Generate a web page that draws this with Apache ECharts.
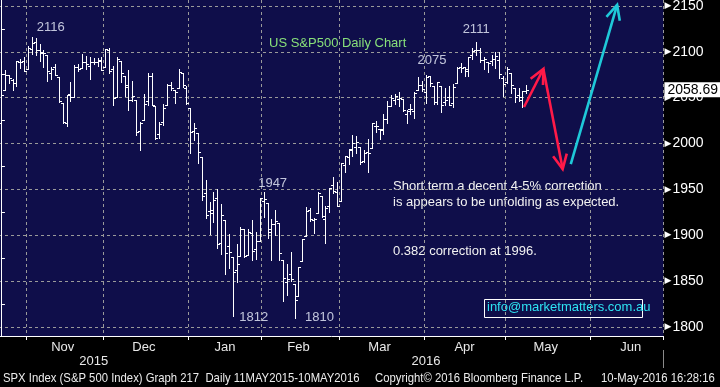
<!DOCTYPE html>
<html><head><meta charset="utf-8">
<script src="https://cdn.jsdelivr.net/npm/echarts@6/dist/echarts.min.js"></script>
<style>html,body{margin:0;padding:0;background:#000;}#c{width:720px;height:387px;}</style>
</head><body><div id="c"></div>
<script>
// ---- data: SPX daily OHLC (trading days) ----
const dates = [
'2015-10-22','2015-10-23','2015-10-26','2015-10-27','2015-10-28','2015-10-29','2015-10-30',
'2015-11-02','2015-11-03','2015-11-04','2015-11-05','2015-11-06','2015-11-09','2015-11-10','2015-11-11','2015-11-12','2015-11-13',
'2015-11-16','2015-11-17','2015-11-18','2015-11-19','2015-11-20','2015-11-23','2015-11-24','2015-11-25','2015-11-27','2015-11-30',
'2015-12-01','2015-12-02','2015-12-03','2015-12-04','2015-12-07','2015-12-08','2015-12-09','2015-12-10','2015-12-11','2015-12-14',
'2015-12-15','2015-12-16','2015-12-17','2015-12-18','2015-12-21','2015-12-22','2015-12-23','2015-12-24','2015-12-28','2015-12-29',
'2015-12-30','2015-12-31',
'2016-01-04','2016-01-05','2016-01-06','2016-01-07','2016-01-08','2016-01-11','2016-01-12','2016-01-13','2016-01-14','2016-01-15',
'2016-01-19','2016-01-20','2016-01-21','2016-01-22','2016-01-25','2016-01-26','2016-01-27','2016-01-28','2016-01-29',
'2016-02-01','2016-02-02','2016-02-03','2016-02-04','2016-02-05','2016-02-08','2016-02-09','2016-02-10','2016-02-11','2016-02-12',
'2016-02-16','2016-02-17','2016-02-18','2016-02-19','2016-02-22','2016-02-23','2016-02-24','2016-02-25','2016-02-26','2016-02-29',
'2016-03-01','2016-03-02','2016-03-03','2016-03-04','2016-03-07','2016-03-08','2016-03-09','2016-03-10','2016-03-11','2016-03-14',
'2016-03-15','2016-03-16','2016-03-17','2016-03-18','2016-03-21','2016-03-22','2016-03-23','2016-03-24','2016-03-28','2016-03-29',
'2016-03-30','2016-03-31',
'2016-04-01','2016-04-04','2016-04-05','2016-04-06','2016-04-07','2016-04-08','2016-04-11','2016-04-12','2016-04-13','2016-04-14',
'2016-04-15','2016-04-18','2016-04-19','2016-04-20','2016-04-21','2016-04-22','2016-04-25','2016-04-26','2016-04-27','2016-04-28',
'2016-04-29',
'2016-05-02','2016-05-03','2016-05-04','2016-05-05','2016-05-06','2016-05-09'];
const open = [2022.0,2058.2,2075.1,2068.8,2066.5,2088.4,2090.0,
2080.8,2102.6,2110.6,2101.7,2098.6,2096.6,2077.2,2083.4,2072.3,2044.6,
2022.1,2053.7,2051.0,2083.7,2082.8,2089.4,2084.4,2089.3,2088.8,2090.9,
2082.9,2101.7,2080.7,2051.2,2090.4,2073.4,2061.2,2047.9,2047.3,2013.4,
2025.6,2046.5,2073.8,2040.8,2010.3,2023.2,2042.2,2063.5,2057.8,2060.5,
2077.3,2060.6,
2038.2,2013.8,2011.7,1985.3,1946.0,1926.1,1927.8,1940.3,1891.7,1916.7,
1888.7,1876.2,1861.5,1877.4,1906.3,1878.8,1902.5,1885.2,1894.0,
1936.9,1935.3,1907.1,1911.7,1913.1,1873.3,1848.5,1857.1,1847.0,1833.4,
1871.4,1898.8,1927.6,1916.7,1924.4,1942.4,1917.6,1931.9,1955.0,1947.1,
1937.1,1976.6,1985.6,1994.0,1996.1,1996.1,1981.4,1991.0,1994.7,2019.3,
2015.3,2014.2,2026.9,2041.2,2047.9,2048.6,2048.6,2032.5,2037.9,2035.8,
2058.3,2063.8,
2056.6,2073.2,2062.5,2045.6,2063.0,2045.5,2050.2,2043.7,2065.9,2082.9,
2083.1,2078.8,2096.1,2101.5,2102.1,2091.5,2089.4,2089.8,2092.6,2090.9,
2071.8,
2067.2,2077.2,2060.3,2053.0,2047.8,2057.6];
const high = [2055.2,2079.7,2075.1,2070.4,2090.4,2092.5,2094.3,
2106.2,2116.5,2114.6,2108.8,2101.9,2096.6,2083.7,2086.9,2072.3,2044.6,
2053.2,2066.7,2085.3,2086.7,2097.1,2095.6,2094.1,2093.0,2093.3,2093.8,
2103.4,2104.3,2085.0,2093.8,2090.4,2073.9,2080.3,2067.7,2047.3,2022.9,
2053.9,2076.7,2076.4,2040.8,2022.9,2042.7,2064.7,2067.4,2057.8,2081.6,
2077.3,2062.5,
2038.2,2021.9,2011.7,1985.3,1960.4,1935.7,1947.4,1950.3,1934.5,1916.7,
1901.4,1876.2,1889.9,1908.9,1906.3,1906.7,1917.0,1903.0,1940.2,
1947.2,1935.3,1918.0,1927.4,1913.1,1873.3,1868.3,1881.6,1847.0,1864.8,
1895.8,1930.7,1930.0,1918.8,1946.7,1942.4,1932.1,1951.8,1963.0,1958.3,
1978.4,1986.5,1993.7,2009.1,2008.2,1996.1,1992.7,2005.1,2022.4,2024.6,
2015.9,2032.0,2046.2,2052.4,2053.9,2056.6,2048.6,2036.0,2042.7,2055.9,
2072.2,2067.9,
2075.1,2074.0,2062.5,2067.3,2063.0,2060.6,2062.9,2065.1,2083.2,2087.8,
2083.2,2094.7,2104.4,2111.1,2103.8,2094.3,2089.4,2096.9,2099.9,2099.3,
2073.9,
2083.4,2077.2,2060.3,2060.2,2057.7,2064.2];
const low = [2022.0,2058.2,2066.5,2058.8,2063.1,2082.6,2079.3,
2080.8,2097.5,2097.0,2090.4,2083.7,2068.2,2069.9,2074.9,2045.7,2022.0,
2019.4,2045.9,2051.0,2078.8,2082.8,2081.4,2070.3,2086.3,2084.1,2080.4,
2082.9,2077.1,2042.4,2051.2,2066.8,2052.3,2036.5,2045.9,2008.8,1993.3,
2025.6,2042.4,2041.7,2005.3,2005.9,2020.5,2042.2,2058.7,2044.2,2060.5,
2062.0,2043.6,
1989.7,2004.2,1979.1,1938.8,1918.5,1901.1,1914.4,1886.5,1878.9,1857.8,
1864.6,1812.3,1849.0,1877.4,1876.0,1878.8,1872.7,1873.7,1894.0,
1920.0,1897.3,1872.7,1900.5,1872.7,1828.5,1834.9,1850.3,1810.1,1833.4,
1871.4,1898.8,1915.1,1902.2,1924.4,1919.4,1891.0,1925.4,1945.8,1931.8,
1937.1,1968.8,1977.4,1986.8,1989.4,1977.4,1979.8,1969.3,1994.7,2012.1,
2005.2,2010.0,2022.2,2041.2,2043.1,2040.6,2034.9,2022.5,2032.0,2028.3,
2058.3,2057.5,
2044.0,2062.6,2042.6,2043.1,2033.8,2041.7,2041.9,2039.7,2065.9,2078.1,
2073.7,2073.3,2091.7,2096.3,2088.5,2081.2,2077.5,2085.8,2082.3,2071.6,
2052.3,
2066.1,2054.9,2045.6,2045.8,2039.5,2054.6];
const close = [2052.5,2075.2,2071.2,2065.9,2090.4,2089.4,2079.4,
2104.1,2109.8,2102.3,2099.9,2099.2,2078.6,2081.7,2075.0,2046.0,2023.0,
2053.2,2050.4,2083.6,2081.2,2089.2,2086.6,2089.1,2088.9,2090.1,2080.4,
2102.6,2079.5,2049.6,2091.7,2077.1,2063.6,2047.6,2052.2,2012.4,2021.9,
2043.4,2073.1,2041.9,2005.6,2021.2,2039.0,2064.3,2061.0,2056.5,2078.4,
2063.4,2043.9,
2012.7,2016.7,1990.3,1943.1,1922.0,1923.7,1938.7,1890.3,1921.8,1880.3,
1881.3,1859.3,1869.0,1906.9,1877.1,1903.6,1883.0,1893.4,1940.2,
1939.4,1903.0,1912.5,1915.5,1880.1,1853.4,1852.2,1851.9,1829.1,1864.8,
1895.6,1926.8,1917.8,1917.8,1945.5,1921.3,1929.8,1951.7,1948.1,1932.2,
1978.4,1986.5,1993.4,2000.0,2001.8,1979.3,1989.3,1989.6,2022.2,2019.6,
2015.9,2027.2,2040.6,2049.6,2051.6,2049.8,2036.7,2035.9,2037.1,2055.0,
2064.0,2059.7,
2072.8,2066.1,2045.2,2066.7,2041.9,2047.6,2042.0,2061.7,2082.4,2082.8,
2080.7,2094.3,2100.8,2102.4,2091.5,2091.6,2087.8,2091.7,2095.2,2075.8,
2065.3,
2081.4,2063.4,2051.1,2050.6,2057.1,2058.69];
const lastPrice = 2058.69;

// labelled turning points (bar index, which value)
const peakIdx  = [8, 123, 110, 68];      // highs: 2116, 2111, 2075, 1947
const troughIdx = [60, 76];              // lows: 1812, 1810
// hand-drawn arrows (slot position, index value)
const arrowFrom = [[135.4, 2039.8], [140.4, 2081.2], [147.5, 1977.6]];
const arrowTo   = [[140.4, 2081.2], [145.4, 1972.1], [159.5, 2151.1]];
const yTickValues = [1800,1850,1900,1950,2000,2050,2100,2150];

// ---- styling / layout ----
const NAVY = '#0f0e4a';
const GRIDC = '#9a9a9a';
const FONT = '"Liberation Sans", Arial, sans-serif';
const NARROW = '"Liberation Sans Narrow", "Liberation Sans", sans-serif';
const SLOTS = 172;
const peakOffsets = [[19,-9],[0,-12],[6,-14],[9,-8]];
const troughOffsets = [[21,2],[25,0]];
const arrowColors = ['#ff1a48','#ff1a48','#1fc9d9'];

// calendar of axis slots: trading days, then future weekdays
const allDays = dates.slice();
for (let t = Date.UTC(2016,4,10); t <= Date.UTC(2016,5,30); t += 86400000) {
  const wd = new Date(t).getUTCDay();
  if (wd > 0 && wd < 6) allDays.push(new Date(t).toISOString().slice(0,10));
}
const cats = allDays.slice(0, SLOTS);
const MN = ['Jan','Feb','Mar','Apr','May','Jun','Jul','Aug','Sep','Oct','Nov','Dec'];
const monthStart = new Set(), monthLabel = {};
const groups = {};
allDays.forEach((s,i) => { const k = s.slice(0,7); (groups[k] = groups[k] || []).push(i); });
Object.keys(groups).forEach(k => {
  const g = groups[k];
  if (g[0] > 0) monthStart.add(g[0]);
  if (g[0] > 0) monthLabel[Math.floor((g[0] + g[g.length-1]) / 2)] = MN[+k.slice(5,7) - 1];
});
const yearLabel = {}; let yearStartIdx = -1;
const yg = {};
cats.forEach((s,i) => { const k = s.slice(0,4); (yg[k] = yg[k] || []).push(i); });
Object.keys(yg).forEach(k => {
  const g = yg[k];
  if (g[0] > 0) yearStartIdx = g[0];
  yearLabel[Math.floor((g[0] + g[g.length-1]) / 2)] = k;
});

const ohlc = dates.map((s,i) => [i, open[i], high[i], low[i], close[i]]);
const labelPts = peakIdx.map((i,k) => ({value:[i, high[i]], label:{offset: peakOffsets[k]}}))
  .concat(troughIdx.map((i,k) => ({value:[i, low[i]], label:{offset: troughOffsets[k]}})));
const arrows = arrowFrom.map((a,k) => [a[0], a[1], arrowTo[k][0], arrowTo[k][1]]);

const splitColors = ['rgba(0,0,0,0)'].concat(yTickValues.map(() => GRIDC), ['rgba(0,0,0,0)']);

function footer(x, text) {
  return {type: 'text', x: x, y: 378, scaleX: 0.87,
          style: {text: text, fill: '#ececec', font: '13px ' + FONT, verticalAlign: 'middle', align: 'left'}};
}

const chart = echarts.init(document.getElementById('c'), null, {renderer:'canvas'});
chart.setOption({
  backgroundColor: '#000',
  animation: false,
  textStyle: {fontFamily: FONT},
  grid: {left: -1, top: 0, width: 664.5, height: 336, show: true, backgroundColor: NAVY, borderWidth: 0,
         containLabel: false, outerBoundsMode: 'none'},
  xAxis: [
    {type: 'category', data: cats, boundaryGap: true, position: 'bottom',
     axisLine: {show: true, onZero: false, lineStyle: {color: '#fff', width: 1}},
     axisTick: {show: true, interval: i => monthStart.has(i), length: 4, lineStyle: {color: '#fff'}},
     axisLabel: {show: true, interval: i => (i in monthLabel), formatter: (v,i) => monthLabel[i] || '',
                 color: '#e8e8e8', fontFamily: NARROW, fontSize: 13, margin: 5},
     splitLine: {show: true, interval: i => monthStart.has(i), lineStyle: {color: GRIDC, type: [3,3], width: 1}}},
    {type: 'category', data: cats, boundaryGap: true, position: 'bottom', offset: 14,
     axisLine: {show: false},
     axisTick: {show: true, interval: i => i === yearStartIdx, length: 18, lineStyle: {color: '#8a8a8a'}},
     axisLabel: {show: true, interval: i => (i in yearLabel), formatter: (v,i) => yearLabel[i] || '',
                 color: '#e8e8e8', fontFamily: NARROW, fontSize: 13, margin: 5},
     splitLine: {show: false}},
    {type: 'value', min: -0.5, max: SLOTS - 0.5, show: false}
  ],
  yAxis: {
    type: 'value', position: 'right', min: 1790, max: 2156.5, splitNumber: 7,
    axisLine: {show: true, lineStyle: {color: '#fff', width: 1}},
    axisTick: {show: false},
    minorTick: {show: true, splitNumber: 2, length: 4, lineStyle: {color: '#fff'}},
    axisLabel: {show: true, showMinLabel: false, showMaxLabel: false, margin: 1,
      formatter: v => (yTickValues.indexOf(v) >= 0 ? '{t|\u25B6}{v|' + v + '}' : ''),
      rich: {t: {fontSize: 9, color: '#fff', fontFamily: '"DejaVu Sans"'},
             v: {fontSize: 14, color: '#fff', fontFamily: FONT, padding: [0,0,0,1]}}},
    splitLine: {show: true, lineStyle: {color: splitColors, type: [3,3], width: 1}},
    axisPointer: {show: true, type: 'line', value: lastPrice, status: 'show', snap: false, triggerTooltip: false,
      lineStyle: {opacity: 0},
      label: {show: true, formatter: p => Number(p.value).toFixed(2), backgroundColor: '#fff', color: '#000',
              fontFamily: FONT, fontSize: 14, padding: [1,2,0,3], margin: 6, borderRadius: 0},
      handle: {show: false}}
  },
  axisPointer: {triggerOn: 'none'},
  series: [
    {type: 'custom', name: 'SPX', xAxisIndex: 0, yAxisIndex: 0, data: ohlc,
     encode: {x: 0, y: [1,2,3,4]}, clip: true,
     renderItem: (params, api) => {
       const i = api.value(0);
       const pH = api.coord([i, api.value(2)]), pL = api.coord([i, api.value(3)]);
       const pO = api.coord([i, api.value(1)]), pC = api.coord([i, api.value(4)]);
       const x = Math.round(pH[0]) + 0.5;
       const yo = Math.round(pO[1]) + 0.5, yc = Math.round(pC[1]) + 0.5;
       const st = {stroke: '#ffffff', lineWidth: 1};
       return {type: 'group', children: [
         {type: 'line', shape: {x1: x, y1: Math.round(pH[1]), x2: x, y2: Math.round(pL[1]) + 1}, style: st},
         {type: 'line', shape: {x1: x - 2.5, y1: yo, x2: x, y2: yo}, style: st},
         {type: 'line', shape: {x1: x, y1: yc, x2: x + 2.5, y2: yc}, style: st}
       ]};
     }},
    {type: 'scatter', xAxisIndex: 0, yAxisIndex: 0, data: labelPts, symbolSize: 0, silent: true,
     label: {show: true, position: 'inside', formatter: p => String(Math.floor(p.value[1])),
             color: '#eef3ff', fontFamily: FONT, fontSize: 13}},
    {type: 'custom', name: 'arrows', xAxisIndex: 2, yAxisIndex: 0, data: arrows, clip: false,
     renderItem: (params, api) => {
       const a = api.coord([api.value(0), api.value(1)]), b = api.coord([api.value(2), api.value(3)]);
       const col = arrowColors[params.dataIndex];
       const ang = Math.atan2(b[1] - a[1], b[0] - a[0]);
       const L = 16, w = 0.45;
       const h1 = [b[0] - L * Math.cos(ang - w), b[1] - L * Math.sin(ang - w)];
       const h2 = [b[0] - L * Math.cos(ang + w), b[1] - L * Math.sin(ang + w)];
       return {type: 'group', children: [
         {type: 'line', shape: {x1: a[0], y1: a[1], x2: b[0], y2: b[1]}, style: {stroke: col, lineWidth: 2.6}},
         {type: 'polyline', shape: {points: [h1, b, h2]}, style: {stroke: col, lineWidth: 2.6, fill: null}}
       ]};
     }}
  ],
  graphic: [
    {type: 'text', left: 269, top: 37, style: {text: 'US S&P500 Daily Chart', fill: '#88e07a', font: '13px ' + FONT}},
    {type: 'text', left: 393, top: 178, style: {text: 'Short term a decent 4-5% correction\nis appears to be unfolding as expected.',
      fill: '#f2f2f2', font: '13px ' + FONT, lineHeight: 16}},
    {type: 'text', left: 393, top: 245, style: {text: '0.382 correction at 1996.', fill: '#f2f2f2', font: '13px ' + FONT}},
    {type: 'rect', shape: {x: 484.5, y: 299.5, width: 158, height: 18}, style: {fill: null, stroke: '#fff', lineWidth: 1}},
    {type: 'text', left: 487, top: 301, style: {text: 'info@marketmatters.com.au', fill: '#2ee3f2', font: '13px ' + FONT}},
    footer(3, 'SPX Index (S&P 500 Index) Graph 217  Daily 11MAY2015-10MAY2016'),
    footer(375, 'Copyright\u00a9 2016 Bloomberg Finance L.P.'),
    footer(601, '10-May-2016 16:28:16')
  ]
});
</script></body></html>
